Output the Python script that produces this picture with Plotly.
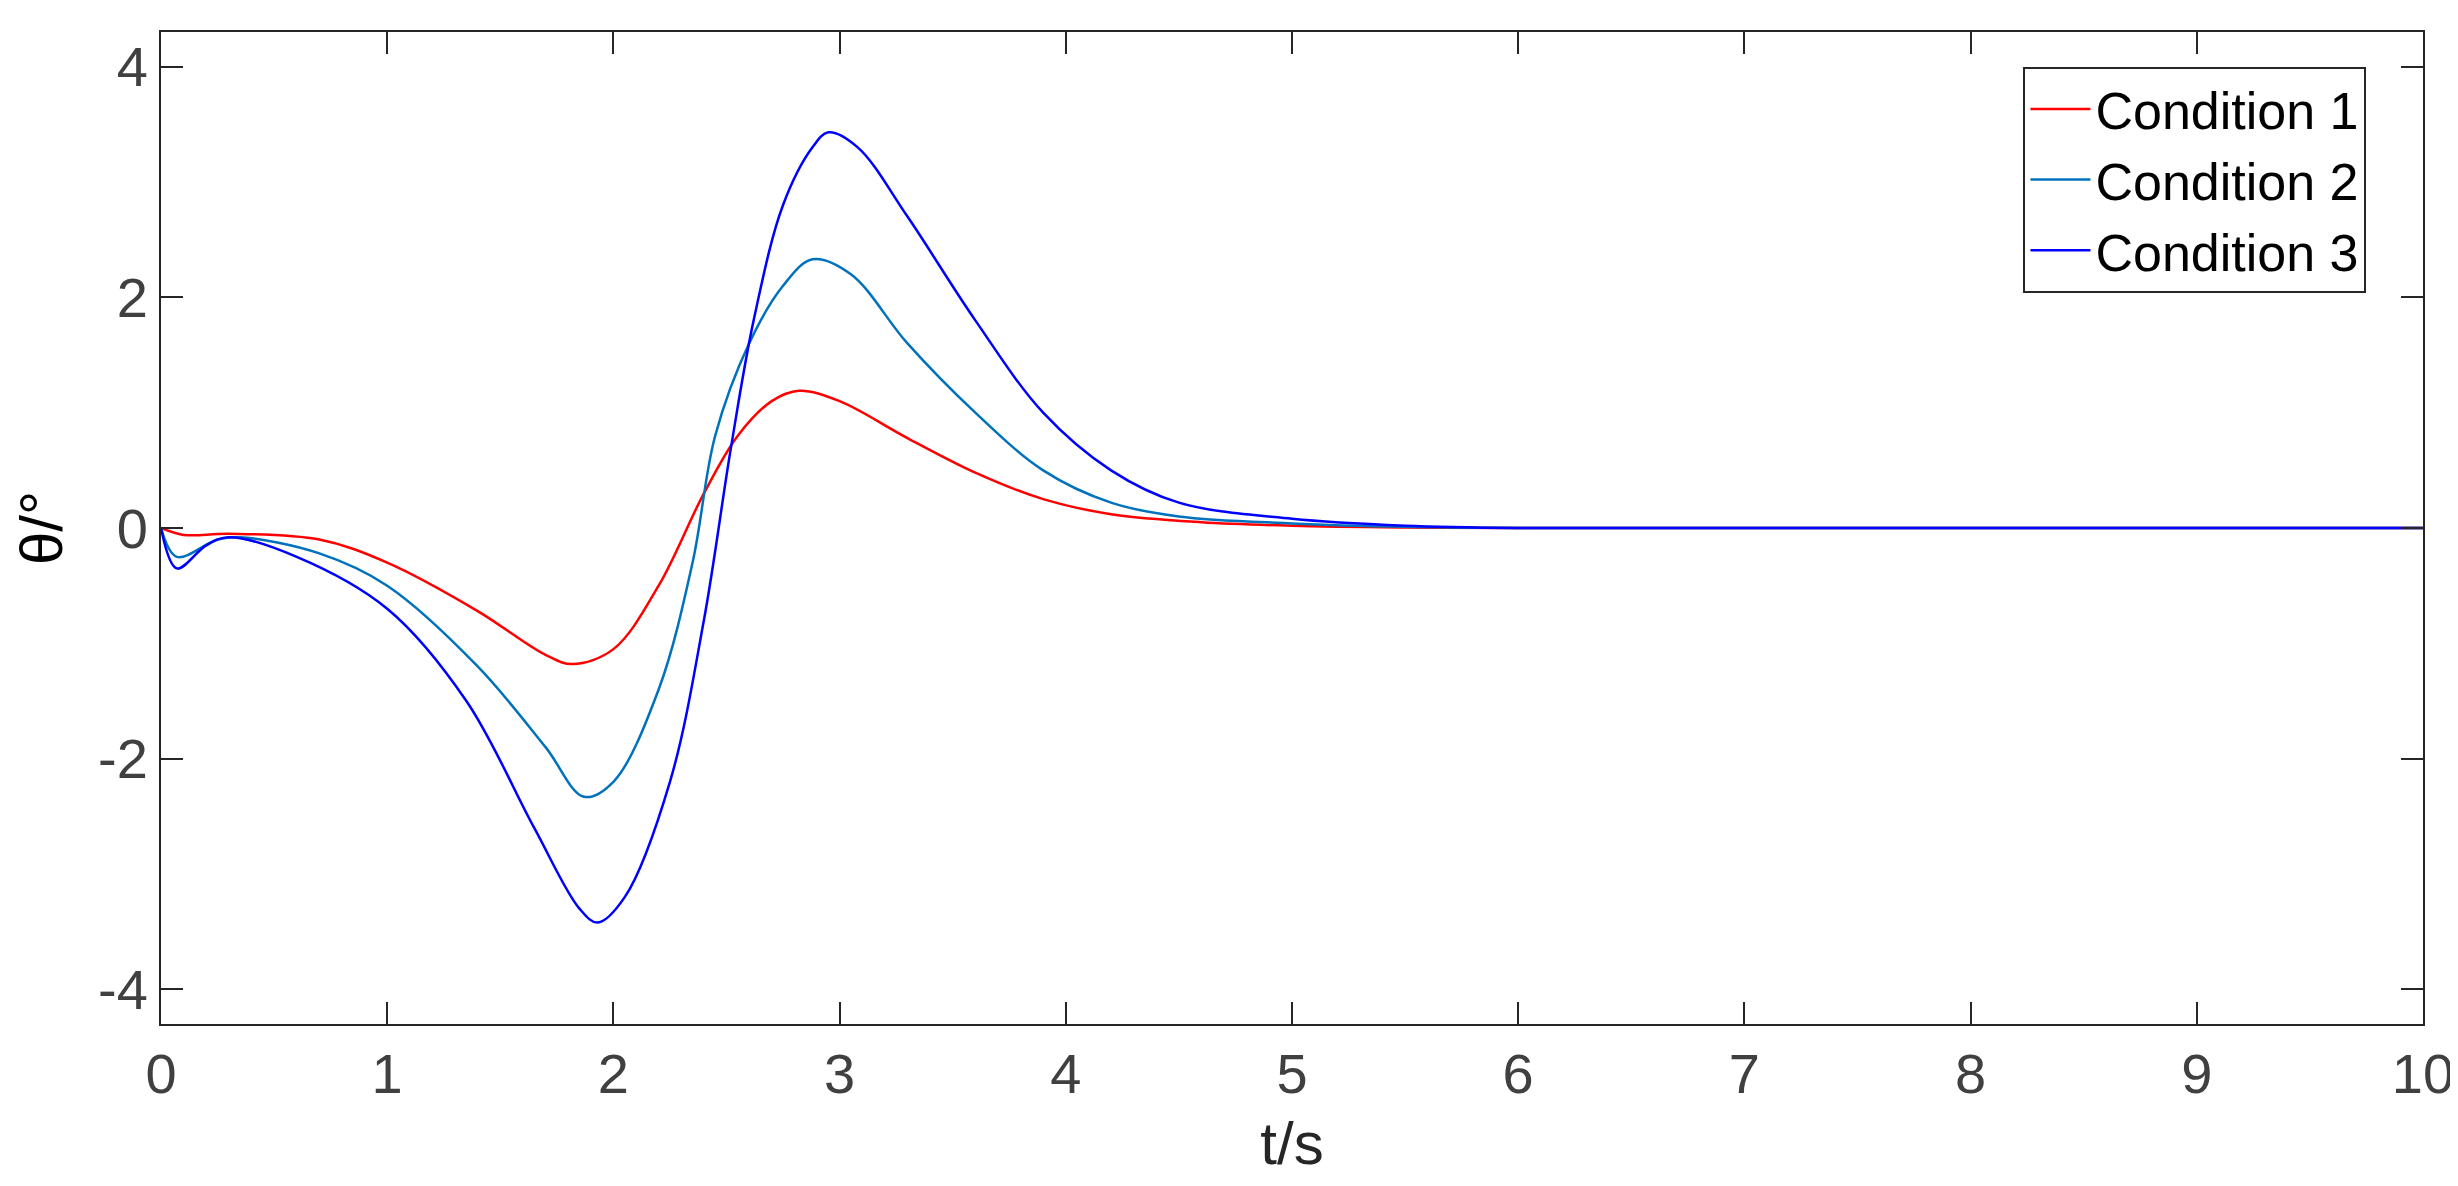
import plotly.graph_objects as go

t1 = [0, 0.1, 0.3, 0.7, 1.0, 1.4, 1.7, 1.82, 2.0, 2.2, 2.4, 2.55, 2.7, 2.82, 3.0, 3.3, 3.6, 3.9, 4.2, 4.6, 5.0, 5.5, 6, 10]
y1 = [0, -0.06, -0.05, -0.1, -0.3, -0.72, -1.1, -1.18, -1.05, -0.5, 0.3, 0.8, 1.1, 1.19, 1.1, 0.78, 0.48, 0.25, 0.12, 0.05, 0.02, 0.005, 0, 0]
t2 = [0, 0.07, 0.25, 0.35, 0.7, 1.0, 1.4, 1.7, 1.87, 2.0, 2.2, 2.35, 2.45, 2.6, 2.75, 2.88, 3.05, 3.3, 3.6, 3.9, 4.2, 4.5, 5.0, 5.5, 6, 10]
y2 = [0, -0.25, -0.1, -0.08, -0.22, -0.5, -1.2, -1.9, -2.33, -2.2, -1.4, -0.3, 0.8, 1.6, 2.1, 2.33, 2.2, 1.6, 1.0, 0.5, 0.22, 0.1, 0.04, 0.01, 0, 0]
t3 = [0, 0.07, 0.2, 0.3, 0.6, 1.0, 1.35, 1.65, 1.85, 1.93, 2.05, 2.25, 2.4, 2.52, 2.62, 2.75, 2.88, 2.95, 3.08, 3.3, 3.6, 3.9, 4.2, 4.5, 5.0, 5.5, 6, 10]
y3 = [0, -0.35, -0.15, -0.08, -0.25, -0.7, -1.5, -2.6, -3.3, -3.42, -3.2, -2.2, -0.8, 0.7, 1.8, 2.8, 3.3, 3.43, 3.3, 2.7, 1.8, 1.0, 0.5, 0.22, 0.08, 0.02, 0, 0]
y_ticks = [-4, -2, 0, 2, 4]
y_ticktext = ["-4", "-2", "0", "2", "4"]

fig = go.Figure()
for t, y, c, n in [(t1, y1, "#ff0000", "Condition 1"), (t2, y2, "#0072bd", "Condition 2"), (t3, y3, "#0000ff", "Condition 3")]:
    fig.add_trace(go.Scatter(x=t, y=y, mode="lines", name=n, line=dict(color=c, width=2.5, shape="spline", smoothing=1.0)))

ax = dict(showline=True, linecolor="#262626", linewidth=2, mirror="ticks", ticks="inside", ticklen=22, tickwidth=2,
          tickcolor="#262626", showgrid=False, zeroline=False, tickfont=dict(size=56, color="#404040"))
fig.update_xaxes(**ax, range=[0, 10], dtick=1, title=dict(text="t/s", font=dict(size=60, color="#262626"), standoff=18))
fig.update_yaxes(**ax, range=[-4.3, 4.3], tickvals=y_ticks, ticktext=y_ticktext,
                 title=dict(text="θ/°", font=dict(size=60, color="#000"), standoff=22))
fig.update_layout(width=2458, height=1186, margin=dict(l=153, r=39, t=24, b=170),
                  paper_bgcolor="white", plot_bgcolor="white", font=dict(family="Liberation Sans"),
                  legend=dict(x=0.975, y=0.965, xanchor="right", yanchor="top", bordercolor="#262626", borderwidth=2,
                              font=dict(size=52, color="#000"), bgcolor="white", itemwidth=60))
fig.write_html("out.html")
